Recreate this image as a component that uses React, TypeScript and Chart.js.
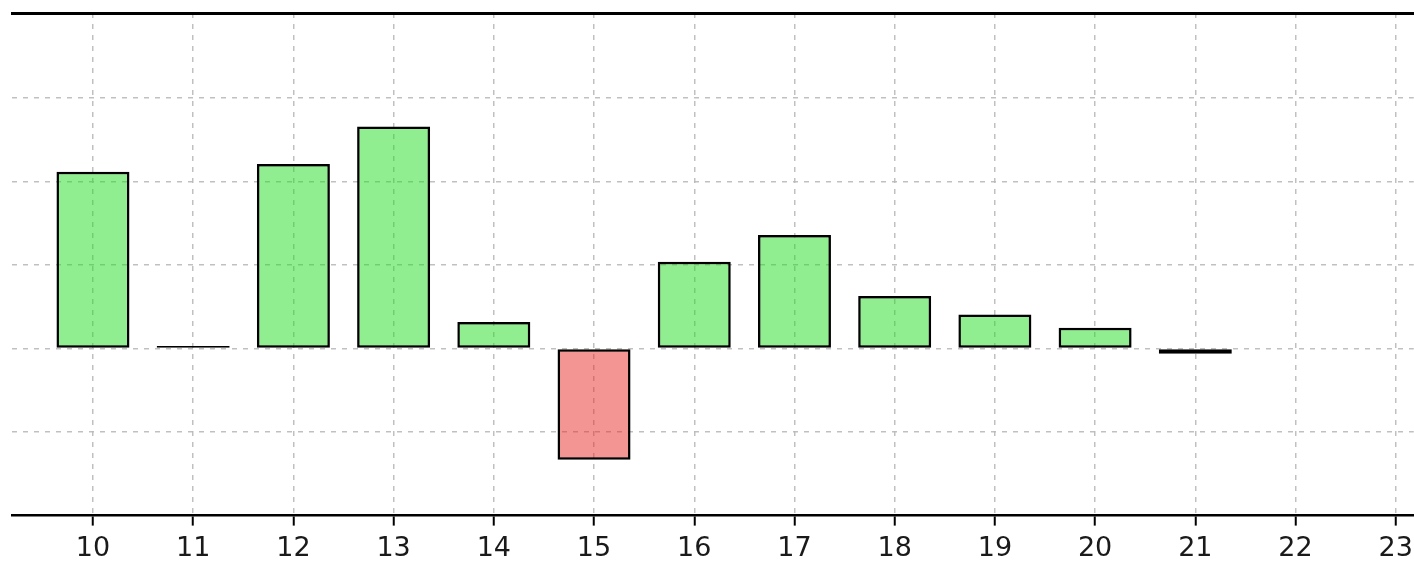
import React, { useEffect, useRef } from "react";
import { Chart, registerables } from "chart.js";

Chart.register(...registerables);

const categories = [10, 11, 12, 13, 14, 15, 16, 17, 18, 19, 20, 21, 22, 23];
const values: (number | null)[] = [2.12, 0.03, 2.21, 2.66, 0.32, -1.33, 1.04, 1.36, 0.63, 0.41, 0.25, -0.06, null, null];
const xTickValues = [10, 11, 12, 13, 14, 15, 16, 17, 18, 19, 20, 21, 22, 23];
const yGridValues = [-1, 0, 1, 2, 3];

const X_MIN = 9.192;
const X_MAX = 23.18;
const Y_MIN = -2;
const Y_MAX = 4.02;

const GREEN = "rgba(34,221,34,0.5)";
const RED = "rgba(229,43,39,0.5)";

export default function App() {
  const canvasRef = useRef<HTMLCanvasElement | null>(null);

  useEffect(() => {
    const canvas = canvasRef.current;
    if (!canvas) return;
    const points = categories
      .map((c, i) => ({ x: c, y: values[i] }))
      .filter((p) => p.y !== null) as { x: number; y: number }[];

    const chart = new Chart(canvas, {
      type: "bar",
      data: {
        datasets: [
          {
            data: points as any,
            backgroundColor: (ctx: any) => {
              const v = ctx.raw ? ctx.raw.y : 0;
              return v < 0 ? RED : GREEN;
            },
            borderColor: "#000000",
            borderWidth: 2.5,
            borderSkipped: false,
            inflateAmount: 0,
            barThickness: 73,
          },
        ],
      },
      options: {
        animation: false,
        responsive: false,
        devicePixelRatio: 1,
        layout: { padding: { left: 12, top: 13, right: 0, bottom: 0 } },
        plugins: {
          legend: { display: false },
          tooltip: { enabled: false },
          title: { display: false },
        },
        scales: {
          x: {
            type: "linear",
            position: "bottom",
            offset: false,
            min: X_MIN,
            max: X_MAX,
            afterBuildTicks: (scale: any) => {
              scale.ticks = xTickValues.map((v) => ({ value: v }));
            },
            ticks: {
              color: "#1a1a1a",
              font: { family: "'DejaVu Sans', sans-serif", size: 27 },
              padding: 7,
              maxRotation: 0,
              autoSkip: false,
              callback: (v: any) => String(v),
            },
            grid: {
              offset: false,
              color: "rgba(185,185,185,0.9)",
              lineWidth: 1.5,
              drawTicks: true,
              tickLength: 10,
              tickColor: "#000000",
              tickWidth: 2,
            },
            border: { display: true, color: "#000000", width: 2.5, dash: [5, 6] },
          },
          xTop: {
            type: "linear",
            position: "top",
            offset: false,
            min: X_MIN,
            max: X_MAX,
            ticks: { display: false },
            grid: { display: false, drawTicks: false },
            border: { display: true, color: "#000000", width: 3 },
          },
          y: {
            type: "linear",
            min: Y_MIN,
            max: Y_MAX,
            afterBuildTicks: (scale: any) => {
              scale.ticks = yGridValues.map((v) => ({ value: v }));
            },
            ticks: { display: false },
            grid: {
              color: "rgba(185,185,185,0.9)",
              lineWidth: 1.5,
              drawTicks: false,
            },
            border: { display: false, dash: [5, 6] },
          },
        },
      } as any,
    });
    return () => chart.destroy();
  }, []);

  return (
    <div style={{ position: "absolute", left: 0, top: 0, width: 1414, height: 563, overflow: "hidden", background: "#ffffff" }}>
      <canvas ref={canvasRef} width={1420} height={572} style={{ display: "block" }} />
    </div>
  );
}
